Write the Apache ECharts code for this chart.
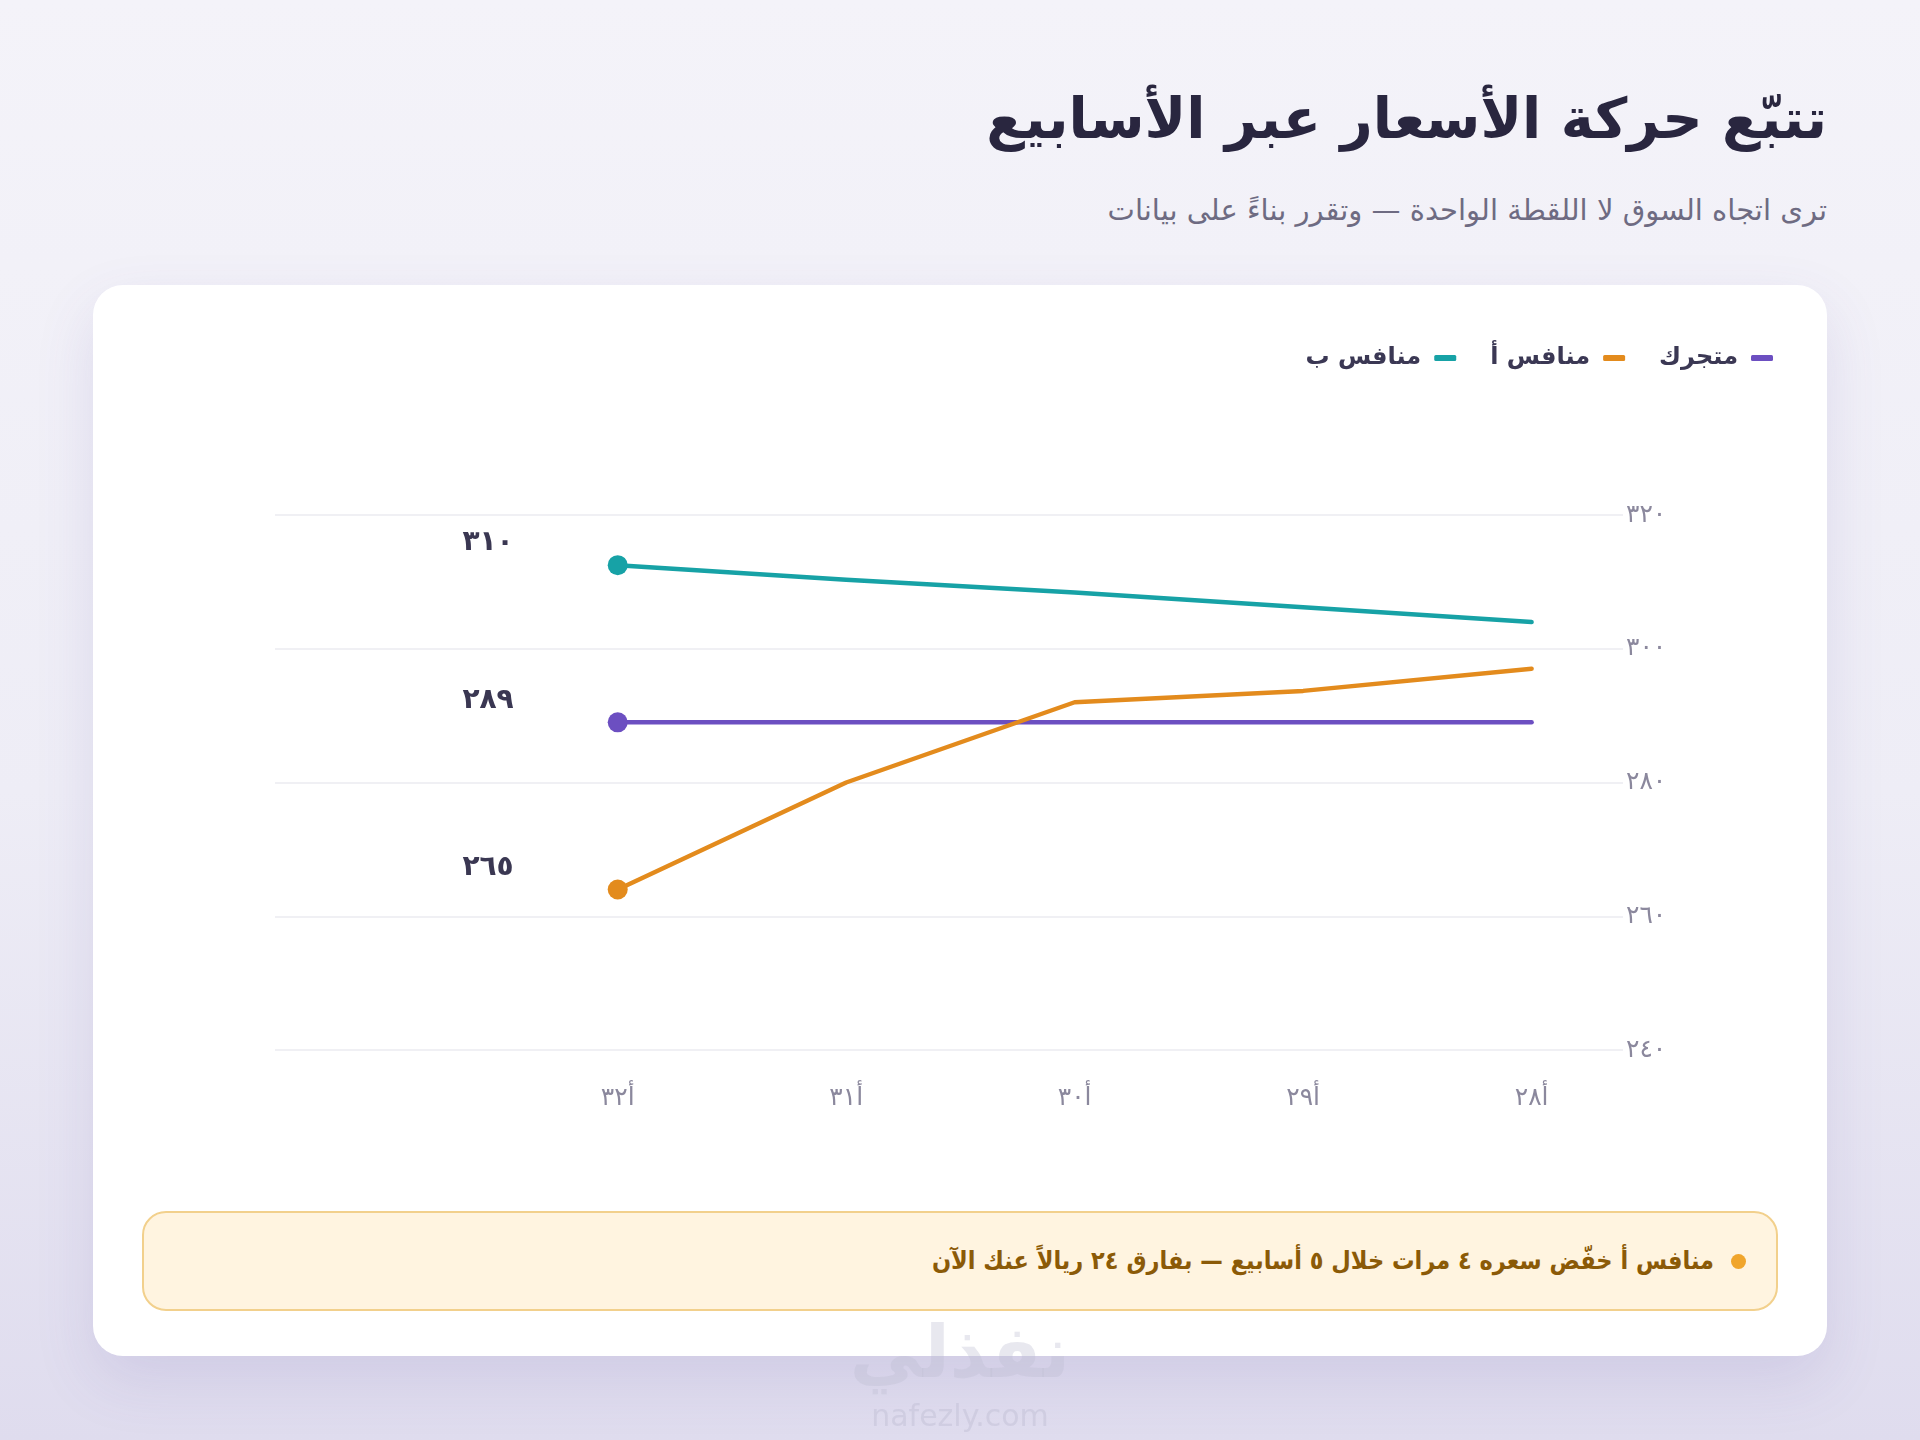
<!DOCTYPE html>
<html lang="ar" dir="rtl">
<head>
<meta charset="utf-8">
<script src="https://cdn.jsdelivr.net/npm/echarts@6/dist/echarts.min.js"></script>
<style>
  html, body { margin:0; padding:0; }
  body {
    width:1920px; height:1440px; position:relative; overflow:hidden;
    background: linear-gradient(180deg, #f4f3f9 0%, #eeedf6 55%, #dfdcee 100%);
    font-family: "DejaVu Sans", "Noto Sans", sans-serif;
  }
  #title {
    position:absolute; right:93px; top:86px; margin:0;
    font-size:56px; font-weight:bold; color:#29263f; white-space:nowrap;
  }
  #subtitle {
    position:absolute; right:93px; top:193px; margin:0;
    font-size:29px; color:#6e6b82; white-space:nowrap;
  }
  #card {
    position:absolute; left:93px; top:285px; width:1734px; height:1071px;
    background:#ffffff; border-radius:30px;
    box-shadow: 0 24px 60px rgba(90,80,160,0.13);
  }
  #insight {
    position:absolute; left:142px; top:1211px; width:1632px; height:96px;
    background:#fff4e0; border:2px solid #f2d08c; border-radius:24px;
    box-sizing:content-box;
  }
  #insightDot {
    position:absolute; right:30px; top:41px; width:15px; height:15px;
    border-radius:50%; background:#f0a52c;
  }
  #insightText {
    position:absolute; right:62px; top:33px; margin:0;
    font-family: "DejaVu Sans Condensed", "DejaVu Sans", sans-serif;
    font-size:25px; font-weight:bold; color:#8b5a07; white-space:nowrap;
  }
  #wm1 {
    position:absolute; left:0; width:1920px; text-align:center; top:1310px;
    font-size:72px; font-weight:bold; color:rgba(190,188,210,0.35);
  }
  #wm2 {
    position:absolute; left:0; width:1920px; text-align:center; top:1398px;
    font-size:30px; color:rgba(190,188,210,0.45); direction:ltr;
  }
  #chart { position:absolute; left:0; top:0; width:1920px; height:1440px; }
</style>
</head>
<body>
<h1 id="title">تتبّع حركة الأسعار عبر الأسابيع</h1>
<p id="subtitle">ترى اتجاه السوق لا اللقطة الواحدة — وتقرر بناءً على بيانات</p>
<div id="card"></div>
<div id="insight">
  <div id="insightDot"></div>
  <p id="insightText">منافس أ خفّض سعره ٤ مرات خلال ٥ أسابيع — بفارق ٢٤ ريالاً عنك الآن</p>
</div>
<div id="chart"></div>
<div id="wm1">نفذلي</div>
<div id="wm2">nafezly.com</div>
<script>
// ---- data ----
const weeks = [28, 29, 30, 31, 32];
const weekLabels = ['أ٢٨', 'أ٢٩', 'أ٣٠', 'أ٣١', 'أ٣٢'];
const yourStore = [289, 289, 289, 289, 289];
const competitorA = [297, 293.7, 292, 280, 264];
const competitorB = [304, 306.2, 308.4, 310.3, 312.5];
const seriesNames = ['متجرك', 'منافس أ', 'منافس ب'];
const latestLabels = ['٢٨٩', '٢٦٥', '٣١٠'];
const seriesColors = ['#6c4fc1', '#e38b1d', '#17a2a6'];

const arabicDigits = ['٠','١','٢','٣','٤','٥','٦','٧','٨','٩'];
function toArabic(n) {
  return String(n).replace(/[0-9]/g, d => arabicDigits[+d]);
}

const FONT = '"DejaVu Sans", "Noto Sans", sans-serif';
const allValues = [yourStore, competitorA, competitorB];
const lastIdx = weeks.length - 1;

const series = allValues.map((vals, si) => ({
  name: seriesNames[si],
  type: 'line',
  data: weeks.map((w, i) => [w, vals[i]]),
  symbol: 'circle',
  showSymbol: true,
  symbolSize: (v, p) => (p.dataIndex === lastIdx ? 20 : 0),
  lineStyle: { width: 4.5, color: seriesColors[si], cap: 'round', join: 'round' },
  itemStyle: { color: seriesColors[si] },
  label: {
    show: true,
    position: 'left',
    distance: 94,
    offset: [0, -22],
    formatter: p => (p.dataIndex === lastIdx ? latestLabels[si] : ''),
    fontFamily: FONT,
    fontSize: 28,
    fontWeight: 'bold',
    color: '#3a3752'
  },
  emphasis: { disabled: true },
  z: 3 + si
}));

const chart = echarts.init(document.getElementById('chart'), null, { renderer: 'canvas' });
chart.setOption({
  animation: false,
  backgroundColor: 'transparent',
  textStyle: { fontFamily: FONT },
  legend: {
    data: [seriesNames[2], seriesNames[1], seriesNames[0]],
    right: 142,
    top: 341,
    align: 'right',
    icon: 'roundRect',
    itemWidth: 22,
    itemHeight: 6,
    itemGap: 34,
    textStyle: {
      fontFamily: FONT, fontSize: 24, fontWeight: 'bold', color: '#3b3854',
      padding: [0, 8, 0, 0]
    }
  },
  grid: { left: 275, right: 297, top: 515, bottom: 390, containLabel: false },
  xAxis: {
    type: 'value',
    inverse: true,
    min: 27.6,
    max: 33.5,
    splitLine: { show: false },
    axisLine: { show: false },
    axisTick: { show: false },
    axisLabel: {
      customValues: weeks,
      formatter: v => weekLabels[weeks.indexOf(v)] || '',
      margin: 36,
      fontFamily: FONT,
      fontSize: 25,
      color: '#8b889d'
    }
  },
  yAxis: {
    type: 'value',
    position: 'right',
    min: 240,
    max: 320,
    interval: 20,
    axisLine: { show: false },
    axisTick: { show: false },
    axisLabel: {
      formatter: v => toArabic(v),
      margin: 3,
      fontFamily: FONT,
      fontSize: 25,
      color: '#8b889d'
    },
    splitLine: { lineStyle: { color: '#ebebf1', width: 1.5 } }
  },
  tooltip: { show: false },
  series: series
});
</script>
</body>
</html>
